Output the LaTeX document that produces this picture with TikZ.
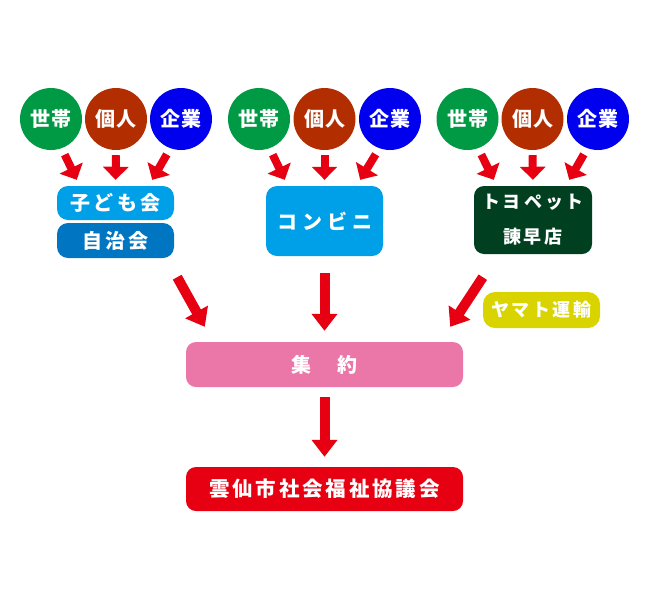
\documentclass[tikz,border=0pt]{standalone}
\usepackage{fontspec}
\newfontfamily\jp{Noto Sans CJK JP}
\usetikzlibrary{arrows.meta}
\definecolor{cgreen}{HTML}{009944}
\definecolor{cbrown}{HTML}{B22D00}
\definecolor{cblue}{HTML}{0000EE}
\definecolor{clight}{HTML}{00A0E9}
\definecolor{cdark}{HTML}{0075C2}
\definecolor{ctoyo}{HTML}{004020}
\definecolor{cyama}{HTML}{D9D400}
\definecolor{cpink}{HTML}{EB77A9}
\definecolor{cred}{HTML}{E60012}
\newcommand\lsp[1]{\hspace{#1pt}}
\begin{document}
\begin{tikzpicture}[x=1pt,y=-1pt,
  circ/.style={circle, minimum size=62pt, inner sep=0pt, text=white,
    font=\jp\bfseries\fontsize{20}{20}\selectfont},
  box/.style={rounded corners=11pt, inner sep=0pt, text=white,
    font=\jp\bfseries\fontsize{20}{20}\selectfont},
  sarrow/.style={draw=cred, line width=8pt, -{Triangle[width=25pt,length=13pt]}},
  barrow/.style={draw=cred, line width=10pt, -{Triangle[width=25pt,length=17pt]}}]
\useasboundingbox (0,0) rectangle (650,600);
% group 1
\node[circ, fill=cgreen] (a1) at (51,119) {世\lsp{1}帯};
\node[circ, fill=cbrown] (b1) at (116,119) {個\lsp{1}人};
\node[circ, fill=cblue]  (c1) at (181,119) {企\lsp{1}業};
% group 2
\node[circ, fill=cgreen] (a2) at (259,119) {世\lsp{1}帯};
\node[circ, fill=cbrown] (b2) at (324.5,119) {個\lsp{1}人};
\node[circ, fill=cblue]  (c2) at (390,119) {企\lsp{1}業};
% group 3
\node[circ, fill=cgreen] (a3) at (467.5,119) {世\lsp{1}帯};
\node[circ, fill=cbrown] (b3) at (532.5,119) {個\lsp{1}人};
\node[circ, fill=cblue]  (c3) at (598,119) {企\lsp{1}業};
% boxes
\node[box, fill=clight, minimum width=117pt, minimum height=34pt] (kodomo) at (115.5,203) {子\lsp{3.5}ど\lsp{3.5}も\lsp{3.5}会};
\node[box, fill=cdark, minimum width=117pt, minimum height=35pt] (jichi) at (115.5,240.5) {自\lsp{3}治\lsp{3}会};
\node[box, fill=clight, minimum width=117pt, minimum height=70pt] (konbini) at (324.5,221) {コ\lsp{5}ン\lsp{5}ビ\lsp{5}ニ};
\node[box, fill=ctoyo, rounded corners=10pt, minimum width=118pt, minimum height=68pt, align=center,
  font=\jp\bfseries\fontsize{18}{35}\selectfont] (toyo) at (533,220)
  {ト\lsp{3}ヨ\lsp{3}ペ\lsp{3}ッ\lsp{3}ト\\諫\lsp{2.5}早\lsp{2.5}店};
\node[box, fill=cyama, rounded corners=12pt, minimum width=117pt, minimum height=36pt,
  font=\jp\bfseries\fontsize{18}{18}\selectfont] (yamato) at (541.5,310) {ヤ\lsp{2.5}マ\lsp{2.5}ト\lsp{2.5}運\lsp{2.5}輸};
\node[box, fill=cpink, rounded corners=10pt, minimum width=277pt, minimum height=45pt] (shu) at (324.5,364.5) {集\hspace{26pt}約};
\node[box, fill=cred, rounded corners=10pt, minimum width=277pt, minimum height=44pt,
  font=\jp\bfseries\fontsize{20.5}{20.5}\selectfont] (kyo) at (324.5,489)
  {雲\lsp{2.8}仙\lsp{2.8}市\lsp{2.8}社\lsp{2.8}会\lsp{2.8}福\lsp{2.8}祉\lsp{2.8}協\lsp{2.8}議\lsp{2.8}会};
% small arrows group 1
\draw[sarrow, shorten <=7pt] (a1.-70) -- ([shift={(20,-6)}]kodomo.north west);
\draw[sarrow, shorten <=5pt, shorten >=6pt] (b1.south) -- (kodomo.north);
\draw[sarrow, shorten <=7pt] (c1.-110) -- ([shift={(-22,-6)}]kodomo.north east);
% group 2
\draw[sarrow, shorten <=7pt] (a2.-70) -- ([shift={(19,-6)}]konbini.north west);
\draw[sarrow, shorten <=5pt, shorten >=6pt] (b2.south) -- (konbini.north);
\draw[sarrow, shorten <=7pt] (c2.-110) -- ([shift={(-23,-6)}]konbini.north east);
% group 3
\draw[sarrow, shorten <=7pt] (a3.-70) -- ([shift={(20,-6)}]toyo.north west);
\draw[sarrow, shorten <=5pt, shorten >=6pt] (b3.south) -- (toyo.north);
\draw[sarrow, shorten <=7pt] (c3.-110) -- ([shift={(-23,-6)}]toyo.north east);
% big arrows
\draw[barrow] ([shift={(3,19)}]jichi.south east) -- ([shift={(19,-15)}]shu.north west);
\draw[barrow, shorten <=17pt, shorten >=11pt] (konbini.south) -- (shu.north);
\draw[barrow] ([shift={(9,23)}]toyo.south west) -- ([shift={(-13,-15)}]shu.north east);
\draw[barrow, shorten <=10pt, shorten >=10pt] (shu.south) -- (kyo.north);
\end{tikzpicture}
\end{document}
